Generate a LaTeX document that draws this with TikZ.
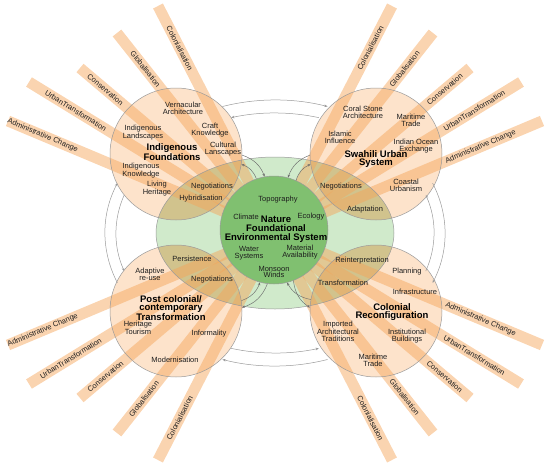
\documentclass[tikz,border=0pt]{standalone}
\usepackage{fontspec}
\setmainfont{Liberation Sans}
\usetikzlibrary{calc,arrows.meta}
\definecolor{peach}{HTML}{FDE3CB}
\definecolor{rayor}{HTML}{F5A55A}
\definecolor{lgreen}{HTML}{D0EACB}
\definecolor{lenscol}{HTML}{D1C38D}
\definecolor{dgreen}{HTML}{80C070}
\definecolor{edgecol}{HTML}{9A9A9A}
\definecolor{txtcol}{HTML}{1E1E1E}
\tikzset{
  lbl/.style={font=\fontsize{7.5}{6.9}\selectfont, text=txtcol, align=center, inner sep=0pt},
  ttl/.style={font=\fontsize{9.5}{8.8}\selectfont\bfseries, text=black, align=center, inner sep=0pt},
  raylbl/.style={font=\fontsize{7.5}{7.5}\selectfont, text=txtcol, inner sep=0pt},
  raystyle/.style={line width=11pt, draw=rayor, opacity=0.48},
  orangec/.style={circle, minimum size=132pt, inner sep=0pt, fill=peach},
  ringarc/.style={draw=edgecol, line width=0.5pt, -{Stealth[length=3.2pt,width=2.6pt]}},
  smallarr/.style={draw=edgecol!70!black, line width=0.45pt, -{Stealth[length=3pt,width=2.4pt]}},
}
\begin{document}
\begin{tikzpicture}[x=1pt,y=1pt]
\useasboundingbox (0,0) rectangle (550,-466);
\coordinate (C) at (275,-233);
% light green ellipse
\fill[lgreen] (C) ellipse[x radius=119pt, y radius=76pt];
% orange circles
\node[orangec] (IF) at (176,-154) {};
\node[orangec] (SU) at (376,-154) {};
\node[orangec] (PC) at (176,-311) {};
\node[orangec] (CR) at (376,-311) {};
% lens
\begin{scope}
  \clip (C) ellipse[x radius=119pt, y radius=76pt];
  \foreach \n in {IF,SU,PC,CR} \fill[lenscol] (\n.center) circle[radius=66pt];
\end{scope}
% ray end points
\coordinate (tlcol) at (158,-6);   \coordinate (tlglob) at (117,-33);
\coordinate (tlcons) at (80,-68);  \coordinate (tlurb) at (29,-82);
\coordinate (tladm) at (8,-121);
\coordinate (trcol) at (392,-6);   \coordinate (trglob) at (433,-33);
\coordinate (trcons) at (470,-68); \coordinate (trurb) at (521,-82);
\coordinate (tradm) at (542,-121);
\coordinate (blcol) at (158,-460);  \coordinate (blglob) at (117,-433);
\coordinate (blcons) at (80,-398);  \coordinate (blurb) at (29,-384);
\coordinate (bladm) at (8,-345);
\coordinate (brcol) at (392,-460);  \coordinate (brglob) at (433,-433);
\coordinate (brcons) at (470,-398); \coordinate (brurb) at (521,-384);
\coordinate (bradm) at (542,-345);
\foreach \e in {tlcol,tlglob,tlcons,tlurb,tladm,trcol,trglob,trcons,trurb,tradm,
                blcol,blglob,blcons,blurb,bladm,brcol,brglob,brcons,brurb,bradm}
  \draw[raystyle] (C) -- (\e);
% outlines
\draw[edgecol, line width=0.5pt] (C) ellipse[x radius=119pt, y radius=76pt];
\foreach \n in {IF,SU,PC,CR} \draw[edgecol, line width=0.5pt] (\n.center) circle[radius=66pt];
% green core
\node[circle, minimum size=108pt, inner sep=0pt, fill=dgreen, draw=edgecol, line width=0.5pt] (NF) at (274,-230) {};
% outer ring arcs (clockwise)
\draw[ringarc] ($(C)+(108:170pt and 133pt)$) arc[start angle=108, end angle=72, x radius=170pt, y radius=133pt];
\draw[ringarc] ($(C)+(22:170pt and 133pt)$) arc[start angle=22, end angle=-22, x radius=170pt, y radius=133pt];
\draw[ringarc] ($(C)+(-72:170pt and 133pt)$) arc[start angle=-72, end angle=-108, x radius=170pt, y radius=133pt];
\draw[ringarc] ($(C)+(202:170pt and 133pt)$) arc[start angle=202, end angle=158, x radius=170pt, y radius=133pt];
% inner ring arcs (counter-clockwise)
\draw[ringarc] ($(C)+(74:159pt and 120pt)$) arc[start angle=74, end angle=106, x radius=159pt, y radius=120pt];
\draw[ringarc] ($(C)+(161.5:159pt and 120pt)$) arc[start angle=161.5, end angle=198.5, x radius=159pt, y radius=120pt];
\draw[ringarc] ($(C)+(254:159pt and 120pt)$) arc[start angle=254, end angle=286, x radius=159pt, y radius=120pt];
\draw[ringarc] ($(C)+(-18.5:159pt and 120pt)$) arc[start angle=-18.5, end angle=18.5, x radius=159pt, y radius=120pt];
% small exchange arrows
\draw[smallarr] (IF.-1) to[bend left=25] (NF.100);
\draw[smallarr] (NF.109) to[bend right=25] (IF.-9.5);
\draw[smallarr] (SU.-179.1) to[bend right=25] (NF.75.4);
\draw[smallarr] (NF.66.8) to[bend left=25] (SU.189.8);
\draw[smallarr] (PC.9.5) to[bend right=25] (NF.255.7);
\draw[smallarr] (NF.263) to[bend left=25] (PC.3.4);
\draw[smallarr] (CR.170.5) to[bend left=25] (NF.-76.7);
\draw[smallarr] (NF.-69.8) to[bend right=25] (CR.177.3);
% ray labels
\node[raylbl, rotate=-62.7] (Ltlcol) at ($(C)!0.815!(tlcol)$) {Colonialisation};
\node[raylbl, rotate=-51.7] (Ltlglob) at ($(C)!0.82!(tlglob)$) {Globalisation};
\node[raylbl, rotate=-40.2] (Ltlcons) at ($(C)!0.87!(tlcons)$) {Conservation};
\node[raylbl, rotate=-31.5] (Ltlurb) at ($(C)!0.81!(tlurb)$) {UrbanTransformation};
\node[raylbl, rotate=-22.8] (Ltladm) at ($(C)!0.87!(tladm)$) {Administrative Change};
\node[raylbl, rotate=62.7] (Ltrcol) at ($(C)!0.815!(trcol)$) {Colonialisation};
\node[raylbl, rotate=51.7] (Ltrglob) at ($(C)!0.82!(trglob)$) {Globalisation};
\node[raylbl, rotate=40.2] (Ltrcons) at ($(C)!0.87!(trcons)$) {Conservation};
\node[raylbl, rotate=31.5] (Ltrurb) at ($(C)!0.81!(trurb)$) {UrbanTransformation};
\node[raylbl, rotate=22.8] (Ltradm) at ($(C)!0.77!(tradm)$) {Administrative Change};
\node[raylbl, rotate=62.7] (Lblcol) at ($(C)!0.815!(blcol)$) {Colonialisation};
\node[raylbl, rotate=51.7] (Lblglob) at ($(C)!0.83!(blglob)$) {Globalisation};
\node[raylbl, rotate=40.2] (Lblcons) at ($(C)!0.87!(blcons)$) {Conservation};
\node[raylbl, rotate=31.5] (Lblurb) at ($(C)!0.83!(blurb)$) {UrbanTransformation};
\node[raylbl, rotate=22.8] (Lbladm) at ($(C)!0.87!(bladm)$) {Administrative Change};
\node[raylbl, rotate=-62.7] (Lbrcol) at ($(C)!0.815!(brcol)$) {Colonialisation};
\node[raylbl, rotate=-51.7] (Lbrglob) at ($(C)!0.82!(brglob)$) {Globalisation};
\node[raylbl, rotate=-40.2] (Lbrcons) at ($(C)!0.87!(brcons)$) {Conservation};
\node[raylbl, rotate=-31.5] (Lbrurb) at ($(C)!0.81!(brurb)$) {UrbanTransformation};
\node[raylbl, rotate=-22.8] (Lbradm) at ($(C)!0.77!(bradm)$) {Administrative Change};
% Indigenous Foundations
\node[lbl] (if1) at (183,-108) {Vernacular\\Architecture};
\node[lbl] (if2) at (143,-133) {Indigenous\\Landscapes};
\node[lbl] (if3) at (210,-130) {Craft\\Knowledge};
\node[ttl] (ift) at (172,-152) {Indigenous\\Foundations};
\node[lbl] (if4) at (223,-149) {Cultural\\Lanscapes};
\node[lbl] (if5) at (141,-171) {Indigenous\\Knowledge};
\node[lbl] (if6) at (157,-189) {Living\\Heritage};
\node[lbl] (if7) at (212,-187) {Negotiations};
\node[lbl] (if8) at (201,-199) {Hybridisation};
% Swahili
\node[lbl] (su1) at (363,-112) {Coral Stone\\Architecture};
\node[lbl] (su2) at (411,-120) {Maritime\\Trade};
\node[lbl] (su3) at (340,-137) {Islamic\\Influence};
\node[lbl] (su4) at (416,-146) {Indian Ocean\\Exchange};
\node[ttl] (sut) at (376,-159) {Swahili Urban\\System};
\node[lbl] (su5) at (341,-187) {Negotiations};
\node[lbl] (su6) at (406,-185) {Coastal\\Urbanism};
\node[lbl] (su7) at (365,-210) {Adaptation};
% Nature
\node[lbl] (nf1) at (278,-200) {Topography};
\node[lbl] (nf2) at (246,-217) {Climate};
\node[lbl] (nf3) at (311,-217) {Ecology};
\node[ttl] (nft) at (276,-229) {Nature\\Foundational\\Environmental System};
\node[lbl] (nf4) at (249,-253) {Water\\Systems};
\node[lbl] (nf5) at (300,-252) {Material\\Availability};
\node[lbl] (nf6) at (274,-272) {Monsoon\\Winds};
% Post colonial
\node[lbl] (pc1) at (192,-259) {Persistence};
\node[lbl] (pc2) at (150,-274) {Adaptive\\re-use};
\node[lbl] (pc3) at (212,-280) {Negotiations};
\node[ttl] (pct) at (171,-308) {Post colonial/\\contemporary\\Transformation};
\node[lbl] (pc4) at (138,-328) {Heritage\\Tourism};
\node[lbl] (pc5) at (209,-334) {Informality};
\node[lbl] (pc6) at (175,-360) {Modernisation};
% Colonial
\node[lbl] (cr1) at (362,-261) {Reinterpretation};
\node[lbl] (cr2) at (407,-272) {Planning};
\node[lbl] (cr3) at (343,-283) {Transformation};
\node[lbl] (cr4) at (415,-292) {Infrastructure};
\node[ttl] (crt) at (392,-312) {Colonial\\Reconfiguration};
\node[lbl] (cr5) at (338,-331) {Imported\\Architectural\\Traditions};
\node[lbl] (cr6) at (407,-336) {Institutional\\Buildings};
\node[lbl] (cr7) at (373,-360) {Maritime\\Trade};
\end{tikzpicture}
\end{document}
